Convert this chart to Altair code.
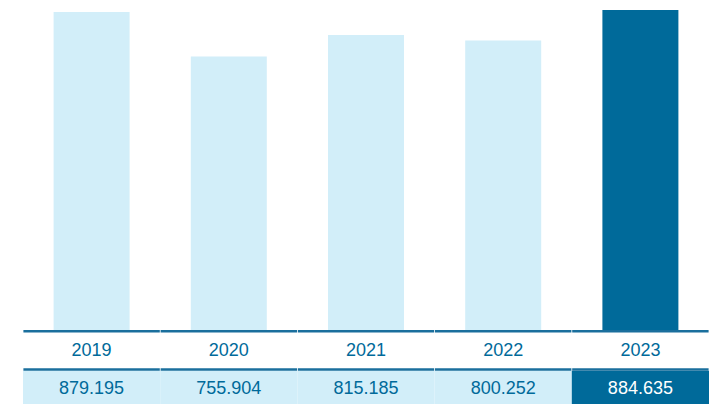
import altair as alt
import pandas as pd

years = ["2019", "2020", "2021", "2022", "2023"]
values = [879.195, 755.904, 815.185, 800.252, 884.635]
labels = ["879.195", "755.904", "815.185", "800.252", "884.635"]
highlight = [False, False, False, False, True]

LIGHT = "#d2eef9"
DARK = "#006a9a"
LINE = "#1a6f9d"

df = pd.DataFrame({"year": years, "value": values, "label": labels, "hl": highlight})

xs = alt.X("year:N", scale=alt.Scale(range=[15, 701], paddingInner=0, paddingOuter=0), axis=None)
color = alt.Color("hl:N", scale=alt.Scale(domain=[False, True], range=[LIGHT, DARK]), legend=None)

base = alt.Chart(df)

bars = base.mark_bar(width=76).encode(
    x=xs,
    y=alt.Y("value:Q", scale=alt.Scale(domain=[0, 884.635], range=[322, 2], nice=False, zero=True), axis=None),
    y2=alt.value(322),
    color=color,
)

line1 = base.mark_bar(width=136.4, color=LINE).encode(x=xs, y=alt.value(322), y2=alt.value(324.6))
line2 = base.mark_bar(width=136.4, color=LINE).encode(x=xs, y=alt.value(360.2), y2=alt.value(362.8))

cells = base.mark_rect().encode(x=xs, y=alt.value(362.8), y2=alt.value(396), color=color)

year_text = base.mark_text(font="Liberation Sans", fontSize=18, color=DARK, baseline="middle").encode(
    x=xs, y=alt.value(343), text="year:N"
)

val_text = base.mark_text(font="Liberation Sans", fontSize=18, baseline="middle").encode(
    x=xs,
    y=alt.value(380.7),
    text="label:N",
    color=alt.Color("hl:N", scale=alt.Scale(domain=[False, True], range=[DARK, "#ffffff"]), legend=None),
)

chart = (
    alt.layer(bars, cells, line1, line2, year_text, val_text)
    .resolve_scale(color="independent")
    .properties(width=701, height=396, autosize=alt.AutoSizeParams(type="none"), padding=0)
    .configure_view(stroke=None)
)

chart.save("out.html", embed_options={"renderer": "svg", "actions": False})
